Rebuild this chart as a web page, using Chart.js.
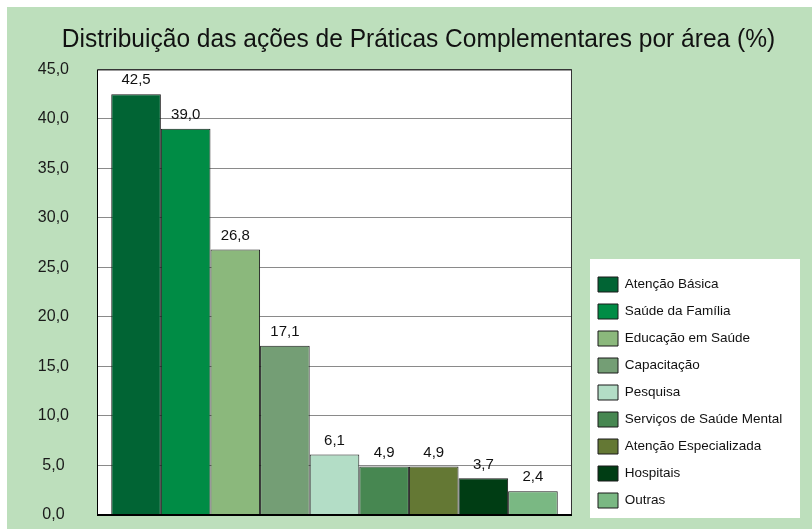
<!DOCTYPE html>
<html>
<head>
<meta charset="utf-8">
<script src="https://cdn.jsdelivr.net/npm/chart.js@4"></script>
<style>
  html, body { margin: 0; padding: 0; background: #fff; }
  #wrap { position: absolute; left: 7px; top: 7px; width: 805px; height: 522px; background: #bddfbc; }
</style>
</head>
<body>
<div id="wrap"><canvas id="chart" width="805" height="522"></canvas></div>
<script>
const chartTitle = 'Distribuição das ações de Práticas Complementares por área (%)';
const areas = [
  'Atenção Básica',
  'Saúde da Família',
  'Educação em Saúde',
  'Capacitação',
  'Pesquisa',
  'Serviços de Saúde Mental',
  'Atenção Especializada',
  'Hospitais',
  'Outras'
];
const percents = [42.5, 39.0, 26.8, 17.1, 6.1, 4.9, 4.9, 3.7, 2.4];
const barColors = ['#016434', '#008c45', '#8bb87c', '#749e75', '#b3ddc6', '#478751', '#647834', '#003d14', '#7ab883'];
const yMin = 0, yMax = 45, yStep = 5;

const FONT = "Arial, 'Liberation Sans', sans-serif";
const fmt = v => v.toFixed(1).replace('.', ',');

// plot frame, white backgrounds, value labels, legend/title nudges
const decor = {
  id: 'decor',
  afterLayout(chart) {
    const lg = chart.legend;
    lg.left = 579;
    lg.right = chart.width;
    lg.top += 5; lg.bottom += 5;
    const t = chart.titleBlock;
    const half = (t.right - t.left) / 2;
    t.left = 411.5 - half; t.right = 411.5 + half;
  },
  beforeDraw(chart) {
    const { ctx, chartArea: a, legend: lg } = chart;
    ctx.save();
    ctx.fillStyle = '#fff';
    ctx.fillRect(a.left, a.top, a.right - a.left, a.bottom - a.top);
    const itemsTop = lg.bottom - 9 * 27;
    ctx.fillRect(lg.left + 4, itemsTop - 18, 210, a.bottom + 3 - (itemsTop - 18));
    ctx.restore();
  },
  afterDatasetsDraw(chart) {
    const { ctx, chartArea: a } = chart;
    ctx.save();
    ctx.fillStyle = '#111';
    ctx.font = '15px ' + FONT;
    ctx.textAlign = 'center';
    ctx.textBaseline = 'middle';
    chart.data.datasets.forEach((ds, i) => {
      const bar = chart.getDatasetMeta(i).data[0];
      ctx.fillText(fmt(ds.data[0]), bar.x, bar.y - 14);
    });
    ctx.strokeStyle = '#000';
    ctx.lineWidth = 1;
    ctx.beginPath();
    ctx.moveTo(a.left + 0.5, a.bottom);
    ctx.lineTo(a.left + 0.5, a.top + 0.5);
    ctx.lineTo(a.right - 0.5, a.top + 0.5);
    ctx.stroke();
    ctx.strokeStyle = '#333';
    ctx.beginPath();
    ctx.moveTo(a.right - 0.5, a.top);
    ctx.lineTo(a.right - 0.5, a.bottom);
    ctx.stroke();
    ctx.strokeStyle = '#000';
    ctx.lineWidth = 2;
    ctx.beginPath();
    ctx.moveTo(a.left, a.bottom);
    ctx.lineTo(a.right, a.bottom);
    ctx.stroke();
    ctx.restore();
  }
};

new Chart(document.getElementById('chart'), {
  type: 'bar',
  data: {
    labels: [''],
    datasets: areas.map((name, i) => ({
      label: name,
      data: [percents[i]],
      backgroundColor: barColors[i],
      borderColor: '#1a1a1a',
      borderWidth: 1,
      categoryPercentage: 0.94,
      barPercentage: 1
    }))
  },
  options: {
    responsive: false,
    animation: false,
    layout: { padding: { left: 30, right: 61.67, top: 0, bottom: 14 } },
    plugins: {
      title: {
        display: true,
        text: chartTitle,
        color: '#111',
        font: { family: FONT, size: 25, weight: 'normal' },
        padding: { top: 18, bottom: 14.4 }
      },
      legend: {
        position: 'right',
        align: 'end',
        labels: {
          boxWidth: 20,
          boxHeight: 15,
          padding: 12,
          color: '#111',
          font: { family: FONT, size: 13.5 }
        }
      },
      tooltip: { enabled: false }
    },
    scales: {
      x: { display: false },
      y: {
        min: yMin,
        max: yMax,
        border: { display: false },
        grid: { color: '#8a8a8a', lineWidth: 1, drawTicks: false },
        afterFit(s) {
          s.width = 60;
          s.paddingTop = 0;
          s.paddingBottom = 0;
        },
        ticks: {
          stepSize: yStep,
          padding: 28,
          crossAlign: 'center',
          color: '#1a1a1a',
          font: { family: FONT, size: 16 },
          callback: v => fmt(v)
        }
      }
    }
  },
  plugins: [decor]
});
</script>
</body>
</html>
